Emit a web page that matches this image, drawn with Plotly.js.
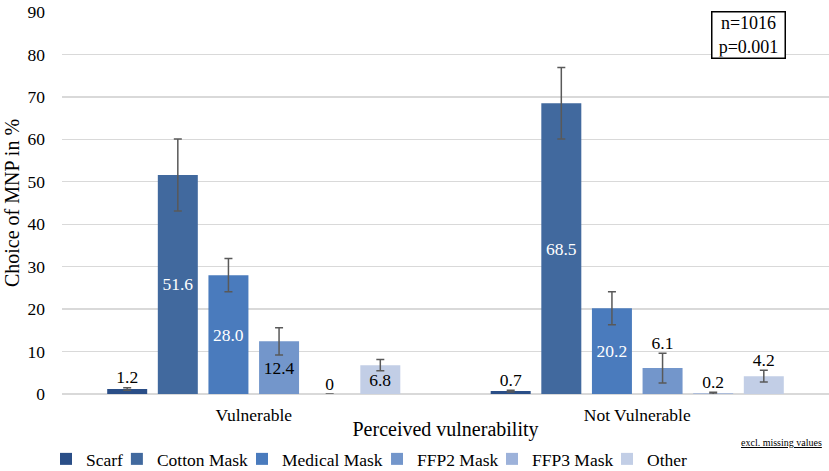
<!DOCTYPE html>
<html>
<head>
<meta charset="utf-8">
<script src="https://cdn.plot.ly/plotly-3.0.1.min.js"></script>
<style>html,body{margin:0;padding:0;background:#fff;}#chart{width:829px;height:471px;}</style>
</head>
<body>
<div id="chart"></div>
<script>
// ---- data ----
var categories = ['Vulnerable', 'Not Vulnerable'];
var seriesNames = ['Scarf', 'Cotton Mask', 'Medical Mask', 'FFP2 Mask', 'FFP3 Mask', 'Other'];
var scarf   = [1.2, 0.7];
var cotton  = [51.6, 68.5];
var medical = [28.0, 20.2];
var ffp2    = [12.4, 6.1];
var ffp3    = [0, 0.2];
var other   = [6.8, 4.2];
var scarfErr   = [0.3, 0.2];
var cottonErr  = [8.5, 8.4];
var medicalErr = [3.9, 3.9];
var ffp2Err    = [3.2, 3.5];
var ffp3Err    = [0, 0.2];
var otherErr   = [1.3, 1.4];
var yTicks = [0, 10, 20, 30, 40, 50, 60, 70, 80, 90];

// ---- styling ----
var colors = ['#2a4e87', '#41699e', '#4a7bbd', '#7396cb', '#9db2da', '#c2cee6'];
var insideTextColor = ['#000', '#fff', '#fff', '#000', '#000', '#000'];
// which labels sit inside the bar (centered); the rest sit above the error bar
var labelInside = [[0, 0], [1, 1], [1, 1], [1, 0], [0, 0], [1, 0]];
// horizontal placement of each legend entry (container fraction)
var legendX = [0.0555, 0.141, 0.2919, 0.4548, 0.5935, 0.7322];
var FONT = 'Times New Roman, Liberation Serif, serif';
var FS = 17.5;

var values = [scarf, cotton, medical, ffp2, ffp3, other];
var errors = [scarfErr, cottonErr, medicalErr, ffp2Err, ffp3Err, otherErr];

function fmt(v) { return v === 0 ? '0' : v.toFixed(1); }
function legendId(i) { return i === 0 ? 'legend' : 'legend' + (i + 1); }

var traces = [];
values.forEach(function (vals, i) {
  traces.push({
    type: 'bar',
    name: seriesNames[i],
    legend: legendId(i),
    x: categories,
    y: vals,
    offsetgroup: 'g' + i,
    marker: { color: colors[i], line: { width: 0 } },
    error_y: { type: 'data', array: errors[i], visible: true, color: '#595959', thickness: 1.5, width: 4 },
    text: vals.map(function (v, j) { return labelInside[i][j] ? fmt(v) : ''; }),
    textposition: vals.map(function (v, j) { return labelInside[i][j] ? 'inside' : 'none'; }),
    insidetextanchor: 'middle',
    textfont: { family: FONT, size: FS, color: insideTextColor[i] },
    insidetextfont: { family: FONT, size: FS, color: insideTextColor[i] },
    constraintext: 'none',
    textangle: 0,
    hoverinfo: 'x+y+name'
  });
});
// label traces: text-only scatter points sitting on top of each error bar, grouped like the bars
values.forEach(function (vals, i) {
  traces.push({
    type: 'scatter',
    mode: 'text',
    name: seriesNames[i] + ' label',
    showlegend: false,
    x: categories,
    y: vals.map(function (v, j) { return v + errors[i][j]; }),
    offsetgroup: 'g' + i,
    text: vals.map(function (v, j) { return labelInside[i][j] ? '' : fmt(v); }),
    textposition: 'top center',
    textfont: { family: FONT, size: FS, color: '#000' },
    cliponaxis: false,
    hoverinfo: 'skip'
  });
});

var layout = {
  width: 829,
  height: 471,
  margin: { l: 62, r: 0, t: 12, b: 77 },
  paper_bgcolor: '#fff',
  plot_bgcolor: '#fff',
  font: { family: FONT, size: FS, color: '#000' },
  barmode: 'group',
  bargap: 0.208,
  bargroupgap: 0.21,
  scattermode: 'group',
  scattergap: 0.208,
  showlegend: true,
  xaxis: {
    type: 'category',
    showgrid: false,
    showline: false,
    zeroline: false,
    ticks: '',
    ticklabelstandoff: 8,
    tickfont: { family: FONT, size: FS, color: '#000' },
    title: { text: 'Perceived vulnerability', font: { family: FONT, size: 20, color: '#000' }, standoff: 4 },
    automargin: false
  },
  yaxis: {
    range: [0, 90],
    tickvals: yTicks,
    ticktext: yTicks.map(String),
    showgrid: true,
    gridcolor: '#d9d9d9',
    gridwidth: 1.3,
    zeroline: true,
    zerolinecolor: '#d9d9d9',
    zerolinewidth: 1.3,
    showline: false,
    ticks: '',
    ticklabelstandoff: 16,
    tickfont: { family: FONT, size: FS, color: '#000' },
    title: { text: 'Choice of MNP in %', font: { family: FONT, size: 20, color: '#000' }, standoff: 2 },
    automargin: false,
    fixedrange: true
  },
  annotations: [
    {
      xref: 'paper', yref: 'paper', x: 0.8944, y: 1.003, xanchor: 'center', yanchor: 'top',
      text: 'n=1016<br>p=0.001', showarrow: false, align: 'center',
      width: 70, height: 43,
      font: { family: FONT, size: 18, color: '#000' },
      bordercolor: '#000', borderwidth: 1.5, borderpad: 1, bgcolor: '#fff'
    },
    {
      xref: 'paper', yref: 'paper', x: 0.9375, y: -0.128, xanchor: 'center', yanchor: 'middle',
      text: '<u>excl. missing values</u>', showarrow: false,
      font: { family: FONT, size: 10, color: '#000' }
    }
  ]
};
legendX.forEach(function (lx, i) {
  layout[legendId(i)] = {
    orientation: 'h',
    xref: 'container',
    yref: 'container',
    x: lx,
    xanchor: 'left',
    y: 0.0637,
    yanchor: 'top',
    bgcolor: 'rgba(0,0,0,0)',
    font: { family: FONT, size: FS, color: '#000' }
  };
});

Plotly.newPlot('chart', traces, layout, { displayModeBar: false, staticPlot: true });
</script>
</body>
</html>
